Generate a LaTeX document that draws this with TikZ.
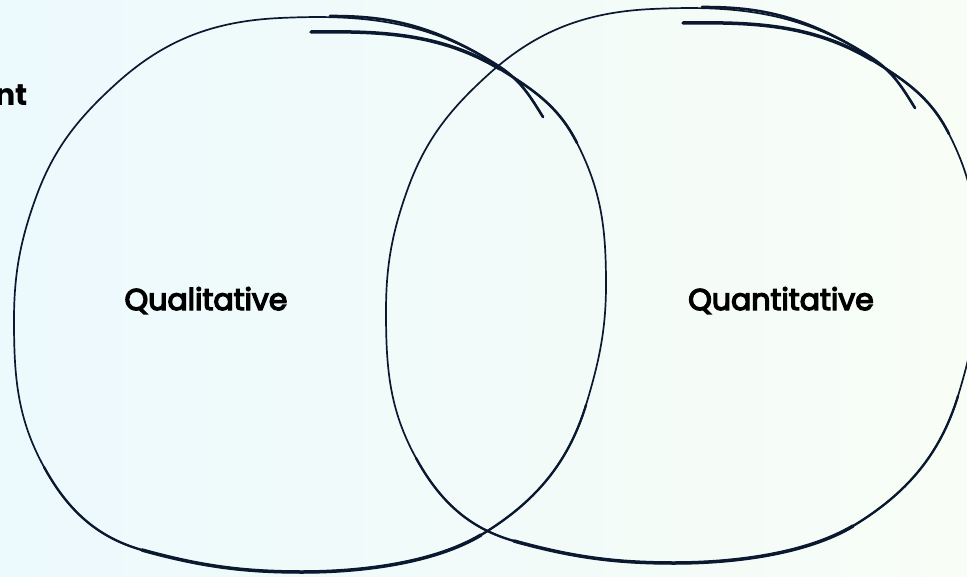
\documentclass[tikz,border=0pt]{standalone}
\usepackage{fontspec}
\setmainfont{Poppins}
\newfontfamily\lblfont{Poppins}[FakeBold=4.5]
\definecolor{ink}{RGB}{10,25,48}
\definecolor{bgL}{RGB}{236,249,253}
\definecolor{bgM}{RGB}{247,252,254}
\definecolor{bgR}{RGB}{248,253,246}
\tikzset{
  loopline/.style={draw=ink, line width=1.7pt, line cap=round, line join=round},
  heavyline/.style={draw=ink, line width=3.5pt, line cap=round, line join=round},
  midline/.style={draw=ink, line width=2.6pt, line cap=round, line join=round},
  lbl/.style={font=\lblfont\fontsize{30}{34}\selectfont, text=black, inner sep=0pt, anchor=base},
}
\newcommand{\fullloop}{(311,32) .. controls (381,31) and (440,33) .. (500,69) .. controls (534,90) and (559,107) .. (577,143) .. controls (602,192) and (606,230) .. (606,285) .. controls (606,330) and (599,362) .. (586,405) .. controls (568,464) and (534,503) .. (481,535) .. controls (434,563) and (362,572) .. (302,572) .. controls (242,572) and (200,566) .. (142,550) .. controls (96,537) and (67,509) .. (44,467) .. controls (17,418) and (14,376) .. (14,320) .. controls (14,275) and (20,242) .. (35,200) .. controls (53,149) and (78,118) .. (118,82) .. controls (166,39) and (215,21) .. (280,18) .. controls (365,14) and (429,21) .. (500,67) .. controls (521,81) and (530,96) .. (543,117)}
\newcommand{\blobseg}{(311,32) .. controls (381,31) and (440,33) .. (500,69)}
\newcommand{\outerseg}{(500,69) .. controls (534,90) and (559,107) .. (577,143)}
\newcommand{\topseg}{(330,16) .. controls (380,16) and (429,21) .. (500,67) .. controls (521,81) and (530,96) .. (543,117)}
\newcommand{\botwide}{(586,405) .. controls (568,464) and (534,503) .. (481,535) .. controls (434,563) and (362,572) .. (302,572) .. controls (242,572) and (200,566) .. (142,550) .. controls (96,537) and (67,509) .. (44,467)}
\newcommand{\botheavy}{(481,535) .. controls (434,563) and (362,572) .. (302,572) .. controls (242,572) and (200,566) .. (142,550)}
\newcommand{\vennloop}{%
  \draw[loopline] \fullloop;
  \draw[draw=ink, line width=2.3pt, line cap=round] \botwide;
  \draw[heavyline] \botheavy;
  \draw[heavyline] \blobseg;
  \draw[midline] \outerseg;
  \draw[midline] \topseg;
}
\begin{document}
\begin{tikzpicture}[x=1pt,y=-1pt]
\useasboundingbox (0,0) rectangle (967,576);
\begin{scope}
\clip (0,0) rectangle (967,576);
\shade[left color=bgL, middle color=bgM, right color=bgR] (0,0) rectangle (967,576);
\vennloop
\begin{scope}[shift={(372,-9)}]
\vennloop
\end{scope}
\end{scope}
\node[lbl, font=\bfseries\fontsize{30}{34}\selectfont, anchor=base east] (nt) at (28,105) {nt};
\node[lbl] (ql) at (206,310) {Qualitative};
\node[lbl] (qn) at (781,310) {Quantitative};
\end{tikzpicture}
\end{document}
